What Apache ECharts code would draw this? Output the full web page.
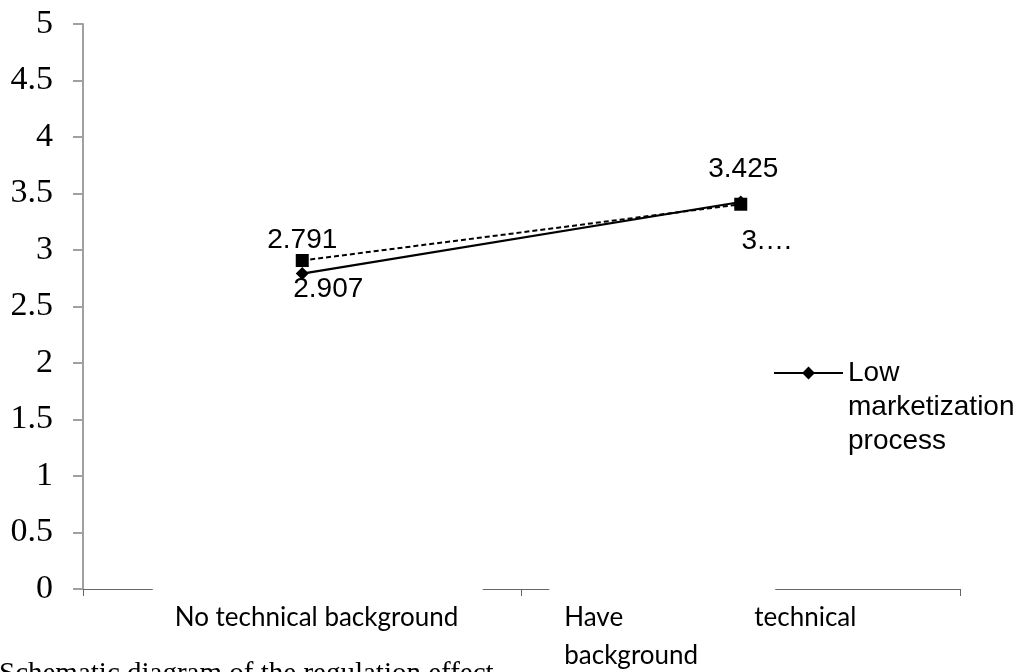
<!DOCTYPE html>
<html><head><meta charset="utf-8">
<script src="https://cdn.jsdelivr.net/npm/echarts@6/dist/echarts.min.js"></script>
<style>html,body{margin:0;padding:0;background:#fff}#c{width:1024px;height:672px}</style>
</head><body><div id="c"></div>
<script>
// ---- data ----
const categories = ['No technical background', 'Have technical background'];
const lowName = 'Low marketization process';
const highName = 'High marketization process';
const lowValues = [2.791, 3.425];
const highValues = [2.907, 3.405];
const caption = 'Schematic diagram of the regulation effect';
const yMin = 0, yMax = 5, yStep = 0.5;

// ---- label placement (style only) ----
const lowLabelOffsets = [[0, -33], [2.5, -33]];
const highLabelOffsets = [[26, 28.5], [26.5, 37]];
const highLabelWidths = [null, 62];

const chart = echarts.init(document.getElementById('c'), null, {renderer: 'canvas'});
const labelFont = {fontFamily: 'Liberation Sans', fontSize: 28, color: '#000'};

chart.setOption({
  animation: false,
  backgroundColor: '#fff',
  grid: {left: 83, right: 64, top: 24, bottom: 83, containLabel: false, outerBoundsMode: 'none'},
  legend: {
    data: [lowName],
    left: 773, top: 288, padding: 0,
    itemWidth: 69, itemHeight: 16, itemGap: 0,
    formatter: n => '\n\n' + n.split(' ').join('\n'),
    textStyle: {fontFamily: 'Liberation Sans', fontSize: 28, lineHeight: 34, color: '#000'}
  },
  xAxis: {
    type: 'category', data: categories, boundaryGap: true,
    axisLine: {show: true, lineStyle: {color: '#666', width: 1}},
    axisTick: {show: true, length: 7, lineStyle: {color: '#666', width: 1}},
    splitLine: {show: false},
    axisLabel: {
      interval: 0, margin: -3, color: '#000',
      formatter: function (value, index) {
        const w = value.split(' ');
        if (index === 0) {
          return '{p|}{c1|}\n{s1|}{t|' + value + '}';
        }
        return '{c2|}{q|}\n{s2|}{h|' + w[0] + '}{t|' + w[1] + '}\n{s2|}{t|' + w.slice(2).join(' ') + '}';
      },
      rich: {
        p: {width: 31, height: 13, lineHeight: 13, align: 'left'},
        c1: {width: 330, height: 13, lineHeight: 13, backgroundColor: '#fff', align: 'left'},
        s1: {width: 53, lineHeight: 38, align: 'left'},
        t: {fontFamily: 'Lato', fontSize: 26, lineHeight: 38, align: 'left', color: '#000'},
        c2: {width: 226, height: 13, lineHeight: 13, backgroundColor: '#fff', align: 'left'},
        q: {width: 157, height: 13, lineHeight: 13, align: 'left'},
        s2: {width: 15, lineHeight: 38, align: 'left'},
        h: {width: 190, fontFamily: 'Lato', fontSize: 26, lineHeight: 38, align: 'left', color: '#000'}
      }
    }
  },
  yAxis: {
    type: 'value', min: yMin, max: yMax, interval: yStep,
    splitLine: {show: false},
    axisLine: {show: true, lineStyle: {color: '#a0a0a0', width: 2}},
    axisTick: {show: true, length: 10, lineStyle: {color: '#a0a0a0', width: 2}},
    axisLabel: {margin: 30, fontFamily: 'Liberation Serif', fontSize: 34, color: '#000'}
  },
  series: [
    {
      name: lowName, type: 'line', symbol: 'diamond', symbolSize: 13,
      itemStyle: {color: '#000'}, lineStyle: {color: '#000', width: 2.2},
      label: Object.assign({show: true, position: 'inside'}, labelFont),
      data: lowValues.map((v, i) => ({value: v, label: {offset: lowLabelOffsets[i]}})),
      z: 2
    },
    {
      name: highName, type: 'line', symbol: 'rect', symbolSize: 13,
      itemStyle: {color: '#000'}, lineStyle: {color: '#000', width: 2, type: [5, 3]},
      label: Object.assign({show: true, position: 'inside'}, labelFont),
      data: highValues.map((v, i) => {
        const lab = {offset: highLabelOffsets[i]};
        if (highLabelWidths[i]) { lab.width = highLabelWidths[i]; lab.overflow = 'truncate'; lab.ellipsis = '…'; }
        return {value: v, label: lab};
      }),
      z: 3
    }
  ],
  graphic: [{
    type: 'text', left: -1, top: 660,
    style: {text: caption, font: '29px "Liberation Serif"', fill: '#000'}
  }]
});
</script>
</body></html>
